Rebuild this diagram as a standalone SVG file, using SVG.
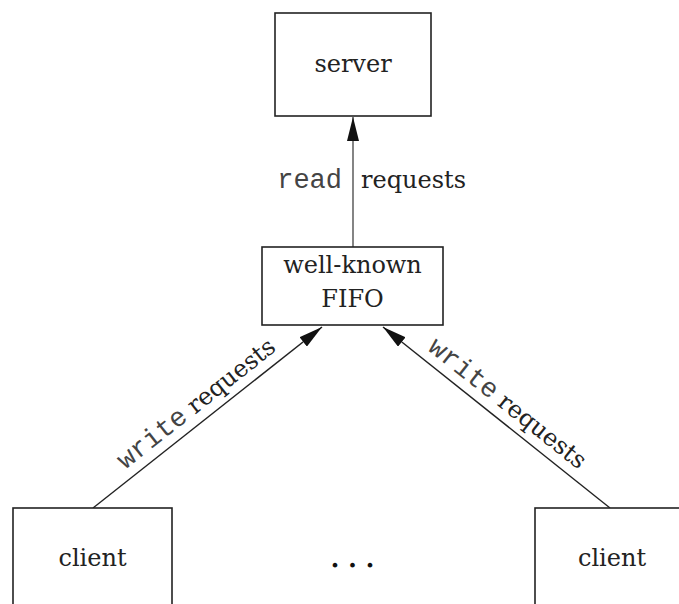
<svg xmlns="http://www.w3.org/2000/svg" width="679" height="604" viewBox="0 0 679 604">
<style>
.box{fill:#fff;stroke:#222;stroke-width:1.6}
.lbl{font-family:"DejaVu Serif","Liberation Serif",serif;font-size:24px;fill:#222}
.mono{font-family:"Liberation Mono","DejaVu Sans Mono",monospace;font-size:27px;fill:#444}
.conn{stroke:#222;stroke-width:1.4;fill:none}
.vconn{stroke:#666;stroke-width:1.6;fill:none}
</style>
<defs>
<marker id="ah" viewBox="0 0 24 12" refX="24" refY="6" markerWidth="24" markerHeight="12" markerUnits="userSpaceOnUse" orient="auto">
<path d="M0,0 L24,6 L0,12 Z" fill="#111"/>
</marker>
</defs>
<rect width="679" height="604" fill="#fff"/>
<g id="connectors">
<line class="vconn" x1="353" y1="247" x2="353" y2="117" marker-end="url(#ah)"/>
<line class="conn" x1="93" y1="508" x2="322" y2="327" marker-end="url(#ah)"/>
<line class="conn" x1="610" y1="508" x2="383" y2="327" marker-end="url(#ah)"/>
<text class="mono" x="342" y="188" text-anchor="end">read</text>
<text class="lbl" x="361" y="188">requests</text>
<text transform="translate(207.5,417.5) rotate(-38.3)" y="-10" text-anchor="middle"><tspan class="mono">write</tspan><tspan class="lbl"> requests</tspan></text>
<text transform="translate(496.5,417.5) rotate(38.4)" y="-10" text-anchor="middle"><tspan class="mono">write</tspan><tspan class="lbl"> requests</tspan></text>
</g>
<g id="server">
<rect class="box" x="275" y="13" width="156" height="103"/>
<text class="lbl" x="353" y="72" text-anchor="middle">server</text>
</g>
<g id="fifo">
<rect class="box" x="262" y="247" width="181" height="78"/>
<text class="lbl" x="352.5" y="273" text-anchor="middle">well-known</text>
<text class="lbl" x="352.5" y="307" text-anchor="middle">FIFO</text>
</g>
<g id="client1">
<rect class="box" x="13" y="508" width="159" height="110"/>
<text class="lbl" x="92.5" y="566" text-anchor="middle">client</text>
</g>
<g id="ellipsis">
<text class="lbl" x="335 352.5 370" y="567" text-anchor="middle" style="font-size:36px;fill:#111">...</text>
</g>
<g id="client2">
<rect class="box" x="535" y="508" width="159" height="110"/>
<text class="lbl" x="612" y="566" text-anchor="middle">client</text>
</g>
</svg>
